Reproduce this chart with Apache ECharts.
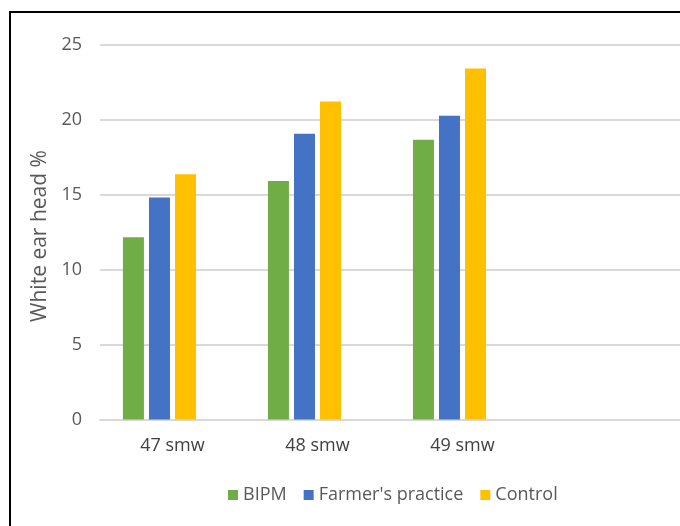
<!DOCTYPE html>
<html>
<head>
<meta charset="utf-8">
<script src="https://cdn.jsdelivr.net/npm/echarts@6/dist/echarts.min.js"></script>
<style>
  html, body { margin: 0; padding: 0; background: #fff; }
  #chart { width: 680px; height: 526px; }
</style>
</head>
<body>
<div id="chart"></div>
<script>
// Weeks (standard meteorological weeks); the trailing empty slot keeps the axis span
const categories = ['47 smw', '48 smw', '49 smw', ''];
const seriesNames = ['BIPM', "Farmer's practice", 'Control'];
const bipm = [12.15, 15.9, 18.65, null];
const farmers = [14.8, 19.05, 20.25, null];
const control = [16.35, 21.2, 23.4, null];
// empty placeholder series occupying the fourth slot of each group
const spare = [null, null, null, null];
const yTicks = { min: 0, max: 25, interval: 5 };

const colors = ['#70AD47', '#4472C4', '#FFC000'];
const font = '"Open Sans", Lato, sans-serif';
const textGray = '#595959';

const chart = echarts.init(document.getElementById('chart'), null, { renderer: 'canvas' });

function barSeries(name, data, color) {
  return {
    name: name,
    type: 'bar',
    data: data,
    barWidth: 21,
    barGap: '24%',
    itemStyle: { color: color },
    emphasis: { disabled: true }
  };
}

chart.setOption({
  animation: false,
  backgroundColor: '#ffffff',
  grid: { left: 100, top: 44.5, width: 584, height: 375 },
  graphic: [{
    type: 'rect',
    shape: { x: 10, y: 12, width: 700, height: 600 },
    style: { fill: 'none', stroke: '#000', lineWidth: 2 },
    z: 100
  }],
  legend: {
    data: seriesNames.map(function (n) { return { name: n, icon: 'rect' }; }),
    left: 223,
    top: 481,
    itemWidth: 10,
    itemHeight: 10,
    itemGap: 17,
    textStyle: { color: textGray, fontSize: 18, fontFamily: font }
  },
  xAxis: {
    type: 'category',
    data: categories,
    axisLine: { lineStyle: { color: '#d9d9d9', width: 2 } },
    axisTick: { show: false },
    axisLabel: { color: '#404040', fontSize: 18, fontFamily: font, margin: 17 }
  },
  yAxis: {
    type: 'value',
    min: yTicks.min,
    max: yTicks.max,
    interval: yTicks.interval,
    name: 'White ear head %',
    nameLocation: 'middle',
    nameGap: 47,
    nameTextStyle: { color: textGray, fontSize: 21, fontFamily: font, padding: [0, 8, 0, 0] },
    axisLine: { show: false },
    axisTick: { show: false },
    axisLabel: { color: textGray, fontSize: 18, fontFamily: font, margin: 18 },
    splitLine: { lineStyle: { color: '#d9d9d9', width: 2 } }
  },
  series: [
    barSeries(seriesNames[0], bipm, colors[0]),
    barSeries(seriesNames[1], farmers, colors[1]),
    barSeries(seriesNames[2], control, colors[2]),
    barSeries('', spare, 'transparent')
  ]
});
</script>
</body>
</html>
